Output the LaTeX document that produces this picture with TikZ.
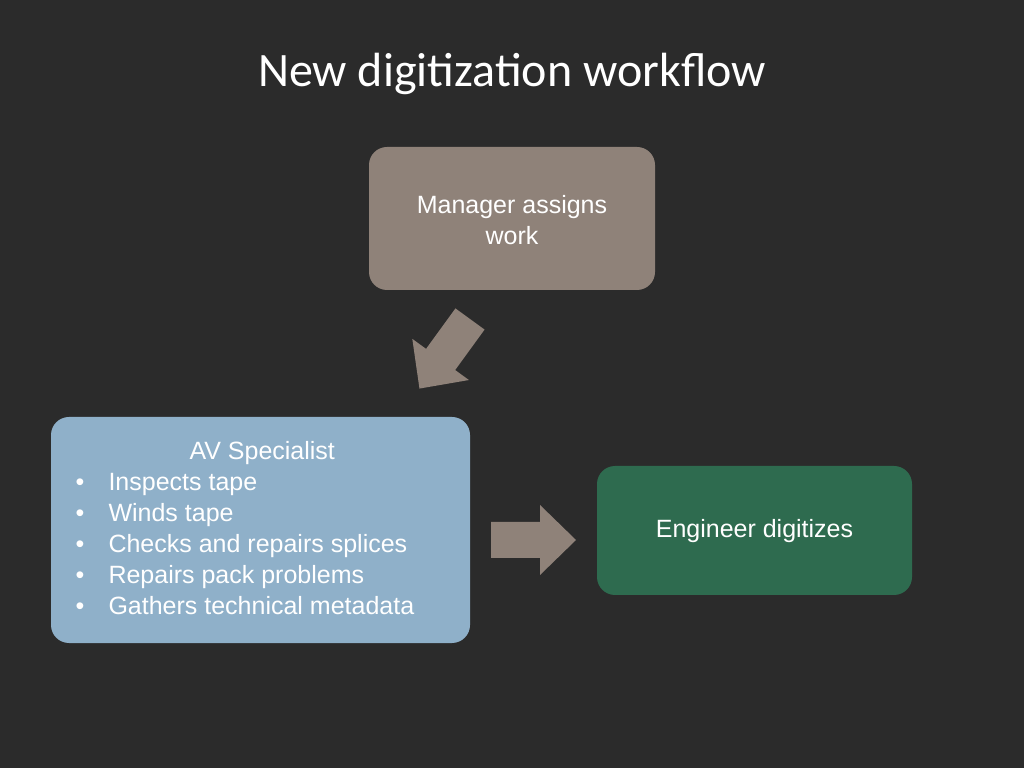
\documentclass[tikz,border=0pt]{standalone}
\usepackage{fontspec}
\setmainfont{Liberation Sans}
\newfontfamily\titlefont{Carlito}
\definecolor{bg}{HTML}{2B2B2B}
\definecolor{mgr}{HTML}{8F8279}
\definecolor{av}{HTML}{8FB0C9}
\definecolor{eng}{HTML}{2E6B4F}
\definecolor{arr}{HTML}{8F8279}
\begin{document}
\begin{tikzpicture}[x=1pt,y=1pt,
  box/.style={rounded corners=18pt,draw=none,inner sep=0pt},
  body/.style={font=\fontsize{25}{31}\selectfont},
  blockarrow/.style={fill=arr,draw=none}]
\fill[bg] (0,0) rectangle (1024,768);
\useasboundingbox (0,0) rectangle (1024,768);
\node[text=white,font=\titlefont\fontsize{48}{56}\selectfont] (title) at (512,694) {New digitization workflow};
\node[box,fill=mgr,minimum width=286pt,minimum height=143pt] (mgr) at (512,549.5) {};
\node[text=white,align=center,body] (mgrt) at (512,548) {Manager assigns\\work};
\begin{scope}[shift={(470,449)},rotate=234]
\fill[blockarrow] (0,-18) -- (50,-18) -- (50,-35) -- (86,0) -- (50,35) -- (50,18) -- (0,18) -- cycle;
\coordinate (a1) at (43,0);
\end{scope}
\node[box,fill=av,minimum width=419pt,minimum height=226pt] (av) at (260.5,238) {};
\node[text=white,align=left,anchor=north west,body] (avt) at (70,330)
{\hspace*{116pt}AV Specialist\\
\makebox[35pt][l]{\hspace*{2pt}•}Inspects tape\\
\makebox[35pt][l]{\hspace*{2pt}•}Winds tape\\
\makebox[35pt][l]{\hspace*{2pt}•}Checks and repairs splices\\
\makebox[35pt][l]{\hspace*{2pt}•}Repairs pack problems\\
\makebox[35pt][l]{\hspace*{2pt}•}Gathers technical metadata};
\fill[blockarrow] (491,246) -- (540,246) -- (540,263) -- (576,228) -- (540,193) -- (540,210) -- (491,210) -- cycle;
\node[box,fill=eng,minimum width=315pt,minimum height=129pt] (eng) at (754.5,237.5) {};
\node[text=white,body] (engt) at (754.5,237) {Engineer digitizes};
\end{tikzpicture}
\end{document}
